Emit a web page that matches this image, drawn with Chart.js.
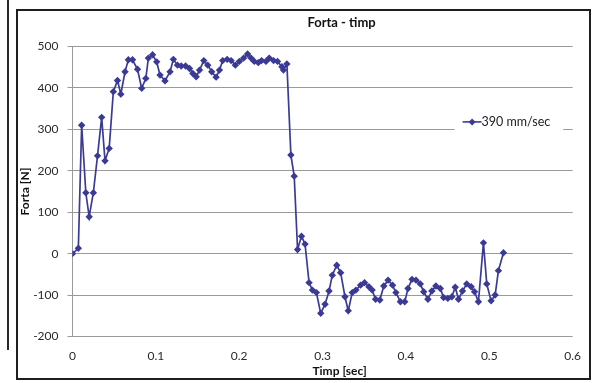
<!DOCTYPE html>
<html>
<head>
<meta charset="utf-8">
<script src="https://cdn.jsdelivr.net/npm/chart.js@4"></script>
<style>
  html, body { margin: 0; padding: 0; background: #fff; }
  #wrap { position: relative; width: 593px; height: 383px; overflow: hidden; background: #fff; }
  #c { position: absolute; left: 0; top: 0; }
  #frame { position: absolute; left: 16px; top: 9px; width: 571px; height: 367px; border: 2px solid #1e1e1e; pointer-events: none; }
  #strip { position: absolute; left: 7px; top: 0; width: 2px; height: 350px; background: #2a2a2a; }
</style>
</head>
<body>
<div id="wrap">
  <canvas id="c" width="593" height="383"></canvas>
  <div id="strip"></div>
  <div id="frame"></div>
</div>
<script>
// ---- data ----
const seriesName = '390 mm/sec';
const timeSec = [
  0, 0.007, 0.011, 0.016, 0.020, 0.025, 0.030, 0.035, 0.039, 0.044,
  0.049, 0.054, 0.058, 0.063, 0.067, 0.072, 0.078, 0.083, 0.088, 0.091,
  0.096, 0.101, 0.105, 0.111, 0.117, 0.121, 0.126, 0.1305, 0.1357, 0.1404,
  0.1444, 0.1484, 0.1524, 0.1575, 0.1623, 0.167, 0.1723, 0.1763, 0.1802, 0.1855,
  0.1903, 0.1954, 0.2002, 0.2053, 0.2101, 0.2142, 0.2181, 0.2229, 0.2268, 0.2321,
  0.2360, 0.2412, 0.2460, 0.2512, 0.2531, 0.2572, 0.262, 0.266, 0.270, 0.2747,
  0.279, 0.2838, 0.2878, 0.2926, 0.2978, 0.303, 0.3078, 0.3117, 0.3170, 0.3217,
  0.3269, 0.3308, 0.3356, 0.340, 0.3456, 0.3504, 0.3556, 0.3595, 0.3636, 0.3687,
  0.3735, 0.3786, 0.384, 0.388, 0.3934, 0.3986, 0.4025, 0.4073, 0.4121, 0.4173,
  0.4213, 0.4264, 0.4312, 0.436, 0.4413, 0.4452, 0.4503, 0.4551, 0.4592, 0.4631,
  0.4679, 0.473, 0.4783, 0.4823, 0.487, 0.493, 0.497, 0.5022, 0.507, 0.511,
  0.517
];
const forceN = [
  0, 13, 310, 147, 89, 147, 236, 329, 224, 254,
  391, 418, 385, 439, 468, 468, 445, 399, 423, 472,
  480, 463, 431, 417, 439, 469, 455, 453, 453, 447,
  435, 427, 443, 466, 455, 439, 426, 443, 466, 469,
  466, 455, 464, 472, 482, 472, 464, 461, 466, 464,
  472, 466, 464, 451, 443, 458, 238, 187, 10, 42,
  23, -70, -88, -94, -144, -122, -90, -52, -28, -46,
  -104, -138, -94, -88, -76, -70, -80, -88, -110, -112,
  -78, -64, -76, -94, -116, -116, -84, -62, -64, -73,
  -92, -110, -90, -78, -84, -106, -108, -104, -81, -110,
  -90, -73, -80, -92, -116, 26, -73, -114, -100, -41,
  2
];
const xTickLabels = ['0', '0.1', '0.2', '0.3', '0.4', '0.5', '0.6'];
const yTickLabels = ['-200', '-100', '0', '100', '200', '300', '400', '500'];
const chartTitle = 'Forta - timp';
const xTitle = 'Timp [sec]';
const yTitle = 'Forta [N]';

const points = timeSec.map((t, i) => ({ x: t, y: forceN[i] }));
const lineColor = '#3b3b96';
const FONT = 'Lato, "Open Sans", "Liberation Sans", sans-serif';

// chart title and x-axis title, drawn slightly right of the plot centre as in the reference
const titlesPlugin = {
  id: 'shiftedTitles',
  afterDraw(chart) {
    const ctx = chart.ctx;
    const a = chart.chartArea;
    const cx = (a.left + a.right) / 2 + 19;
    ctx.save();
    ctx.textAlign = 'center';
    ctx.textBaseline = 'middle';
    ctx.fillStyle = '#111';
    ctx.font = 'bold 13px ' + FONT;
    ctx.fillText(chartTitle, cx, 23);
    ctx.font = 'bold 12px ' + FONT;
    ctx.fillText(xTitle, cx - 2, 371);
    ctx.restore();
  }
};

const legendPlugin = {
  id: 'boxLegend',
  afterDraw(chart) {
    const ctx = chart.ctx;
    const ds = chart.data.datasets[0];
    const xs = chart.scales.x, ys = chart.scales.y;
    const cy = ys.getPixelForValue(318);
    const x0 = xs.getPixelForValue(0.468);
    ctx.save();
    ctx.font = '12.5px ' + FONT;
    const tw = ctx.measureText(ds.label).width;
    ctx.fillStyle = '#fff';
    ctx.fillRect(x0 - 8, cy - 11, tw + 40, 22);
    ctx.strokeStyle = ds.borderColor;
    ctx.lineWidth = 1.6;
    ctx.beginPath();
    ctx.moveTo(x0, cy); ctx.lineTo(x0 + 19, cy); ctx.stroke();
    ctx.fillStyle = ds.borderColor;
    ctx.beginPath();
    ctx.moveTo(x0 + 9.5, cy - 3.5); ctx.lineTo(x0 + 13, cy);
    ctx.lineTo(x0 + 9.5, cy + 3.5); ctx.lineTo(x0 + 6, cy); ctx.closePath(); ctx.fill();
    ctx.fillStyle = '#222';
    ctx.textBaseline = 'middle';
    ctx.textAlign = 'left';
    ctx.fillText(ds.label, x0 + 19, cy);
    ctx.restore();
  }
};

new Chart(document.getElementById('c'), {
  type: 'scatter',
  data: {
    datasets: [{
      label: seriesName,
      data: points,
      showLine: true,
      borderColor: lineColor,
      backgroundColor: lineColor,
      borderWidth: 1.7,
      pointStyle: 'rectRot',
      pointRadius: 2.5,
      pointHoverRadius: 2.5,
      tension: 0
    }]
  },
  plugins: [legendPlugin, titlesPlugin],
  options: {
    responsive: false,
    animation: false,
    events: [],
    layout: { padding: { left: 17, right: 19, top: 46.5, bottom: 0 } },
    plugins: {
      legend: { display: false },
      tooltip: { enabled: false },
      title: { display: false }
    },
    scales: {
      x: {
        type: 'linear',
        min: 0, max: 0.6,
        afterFit(s) { s.height = 46.5; },
        ticks: {
          stepSize: 0.1,
          padding: 12,
          color: '#2a2a2a',
          font: { family: FONT, size: 12 },
          maxRotation: 0,
          callback: (v) => xTickLabels[Math.round(v * 10)]
        },
        grid: { display: false, drawTicks: false, tickLength: 0 },
        border: { display: false },
        title: { display: false }
      },
      y: {
        type: 'linear',
        min: -200, max: 500,
        afterFit(s) { s.width = 55.5; },
        ticks: {
          stepSize: 100,
          padding: 9,
          color: '#2a2a2a',
          font: { family: FONT, size: 12 },
          callback: (v) => yTickLabels[Math.round((v + 200) / 100)]
        },
        grid: { color: '#9a9a9a', lineWidth: 1, tickLength: 5, drawTicks: true },
        border: { display: true, color: '#9a9a9a', width: 1 },
        title: {
          display: true, text: yTitle, color: '#111',
          font: { family: FONT, size: 12, weight: 'bold' },
          padding: { top: 1, bottom: 0 }
        }
      }
    }
  }
});
</script>
</body>
</html>
